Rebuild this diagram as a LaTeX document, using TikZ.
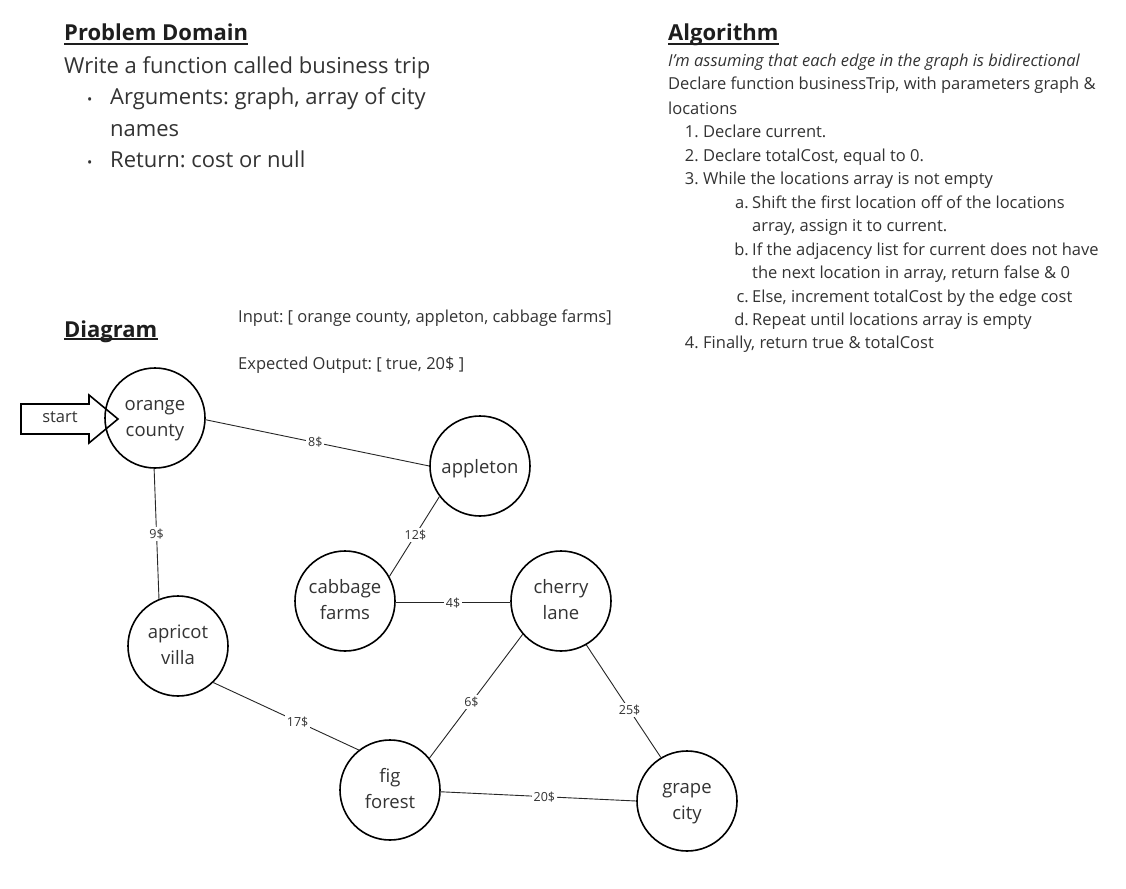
\documentclass[tikz,border=0pt]{standalone}
\usepackage{fontspec}
\setmainfont{Open Sans}
\definecolor{txt}{HTML}{333333}
\definecolor{dark}{HTML}{1E1E1E}
\newcommand\citytwo[2]{\rule{0pt}{20pt}#1\\#2\rule[-10pt]{0pt}{10pt}}
\newcommand\cityone[1]{\rule{0pt}{20pt}#1\rule[-5.5pt]{0pt}{5.5pt}}
\begin{document}
\frenchspacing
\begin{tikzpicture}[x=1pt,y=-1pt,
  every node/.style={inner sep=0pt, text=txt},
  head/.style={font=\fontsize{22}{26}\selectfont\bfseries, anchor=base west, text=dark},
  pd/.style={font=\fontsize{22}{31}\selectfont, anchor=base west},
  alg/.style={font=\fontsize{16.5}{23.5}\selectfont, anchor=base west},
  algnum/.style={font=\fontsize{16.5}{23.5}\selectfont, anchor=base east},
  inp/.style={font=\fontsize{16.5}{20}\selectfont, anchor=base west},
  city/.style={circle, draw=black, line width=1.6pt, minimum size=100pt, align=center,
    font=\fontsize{18.5}{26}\selectfont},
  edge/.style={draw=black!85, line width=0.9pt},
  cost/.style={fill=white, inner sep=2pt, font=\fontsize{12.5}{14}\selectfont},
  uline/.style={line width=2pt, draw=dark}]
\useasboundingbox (0,0) rectangle (1126,888);
\fill[white] (0,0) rectangle (1126,888);

% Problem domain
\node[head] (pdh) at (64,41) {Problem Domain};
\draw[uline] ([yshift=-3pt]pdh.base west) -- ([yshift=-3pt]pdh.base east);
\node[pd] (pd1) at (64,74) {Write a function called business trip};
\node[pd] (b1) at (87,105) {\fontsize{14}{20}\selectfont\textbullet};
\node[pd] (pd2) at (110,105) {Arguments: graph, array of city};
\node[pd] (pd3) at (110,136) {names};
\node[pd] (b2) at (87,167) {\fontsize{14}{20}\selectfont\textbullet};
\node[pd] (pd4) at (110,167) {Return: cost or null};

% Algorithm
\node[head] (alh) at (668,41) {Algorithm};
\draw[uline] ([yshift=-3pt]alh.base west) -- ([yshift=-3pt]alh.base east);
\node[alg] (al0) at (668,67) {\itshape I'm assuming that each edge in the graph is bidirectional};
\node[alg] (al1) at (668,90) {Declare function businessTrip, with parameters graph \&};
\node[alg] (al2) at (668,114) {locations};
\node[algnum] (n1) at (699,137) {1.};
\node[alg] (t1) at (703,137) {Declare current.};
\node[algnum] (n2) at (699,161) {2.};
\node[alg] (t2) at (703,161) {Declare totalCost, equal to 0.};
\node[algnum] (n3) at (699,184) {3.};
\node[alg] (t3) at (703,184) {While the locations array is not empty};
\node[algnum] (na) at (749,208) {a.};
\node[alg] (ta) at (752,208) {Shift the first location off of the locations};
\node[alg] (ta2) at (752,231) {array, assign it to current.};
\node[algnum] (nb) at (749,255) {b.};
\node[alg] (tb) at (752,255) {If the adjacency list for current does not have};
\node[alg] (tb2) at (752,278) {the next location in array, return false \& 0};
\node[algnum] (nc) at (749,302) {c.};
\node[alg] (tc) at (752,302) {Else, increment totalCost by the edge cost};
\node[algnum] (nd) at (749,325) {d.};
\node[alg] (td) at (752,325) {Repeat until locations array is empty};
\node[algnum] (n4) at (699,348) {4.};
\node[alg] (t4) at (703,348) {Finally, return true \& totalCost};

% Diagram
\node[head] (dgh) at (64,337) {Diagram};
\draw[uline] ([yshift=-2pt]dgh.base west) -- ([yshift=-2pt]dgh.base east);
\node[inp] (inp) at (238,322) {Input: [ orange county, appleton, cabbage farms]};
\node[inp] (out) at (238,369) {Expected Output: [ true, 20\$ ]};

% start arrow
\draw[line width=1.6pt, fill=white] (21,404) -- (89,404) -- (89,395) -- (118,419) -- (89,443) -- (89,434) -- (21,434) -- cycle;
\node[font=\fontsize{16.5}{20}\selectfont] (start) at (60,417) {start};

% cities
\node[city] (oc) at (155,418) {\citytwo{orange}{county}};
\node[city] (ap) at (480,466) {\cityone{appleton}};
\node[city] (cf) at (345,601) {\citytwo{cabbage}{farms}};
\node[city] (cl) at (561,601) {\citytwo{cherry}{lane}};
\node[city] (av) at (178,646) {\citytwo{apricot}{villa}};
\node[city] (ff) at (390,790) {\citytwo{fig}{forest}};
\node[city] (gc) at (687,801) {\citytwo{grape}{city}};

% edges
\draw[edge] (oc.-2) -- node[cost, pos=0.49] {8\$} (ap.180);
\draw[edge] (oc.-91) -- node[cost] {9\$} (av.112);
\draw[edge] (ap.-143) -- node[cost, pos=0.48] {12\$} (cf.29);
\draw[edge] (cf.-2) -- node[cost] {4\$} (cl.182);
\draw[edge] (av.-46) -- node[cost, pos=0.58] {17\$} (ff.128);
\draw[edge] (cl.-139) -- node[cost, pos=0.55] {6\$} (ff.39);
\draw[edge] (cl.-60) -- node[cost, pos=0.58] {25\$} (gc.121);
\draw[edge] (ff.-2) -- node[cost, pos=0.53] {20\$} (gc.180);
\end{tikzpicture}
\end{document}
